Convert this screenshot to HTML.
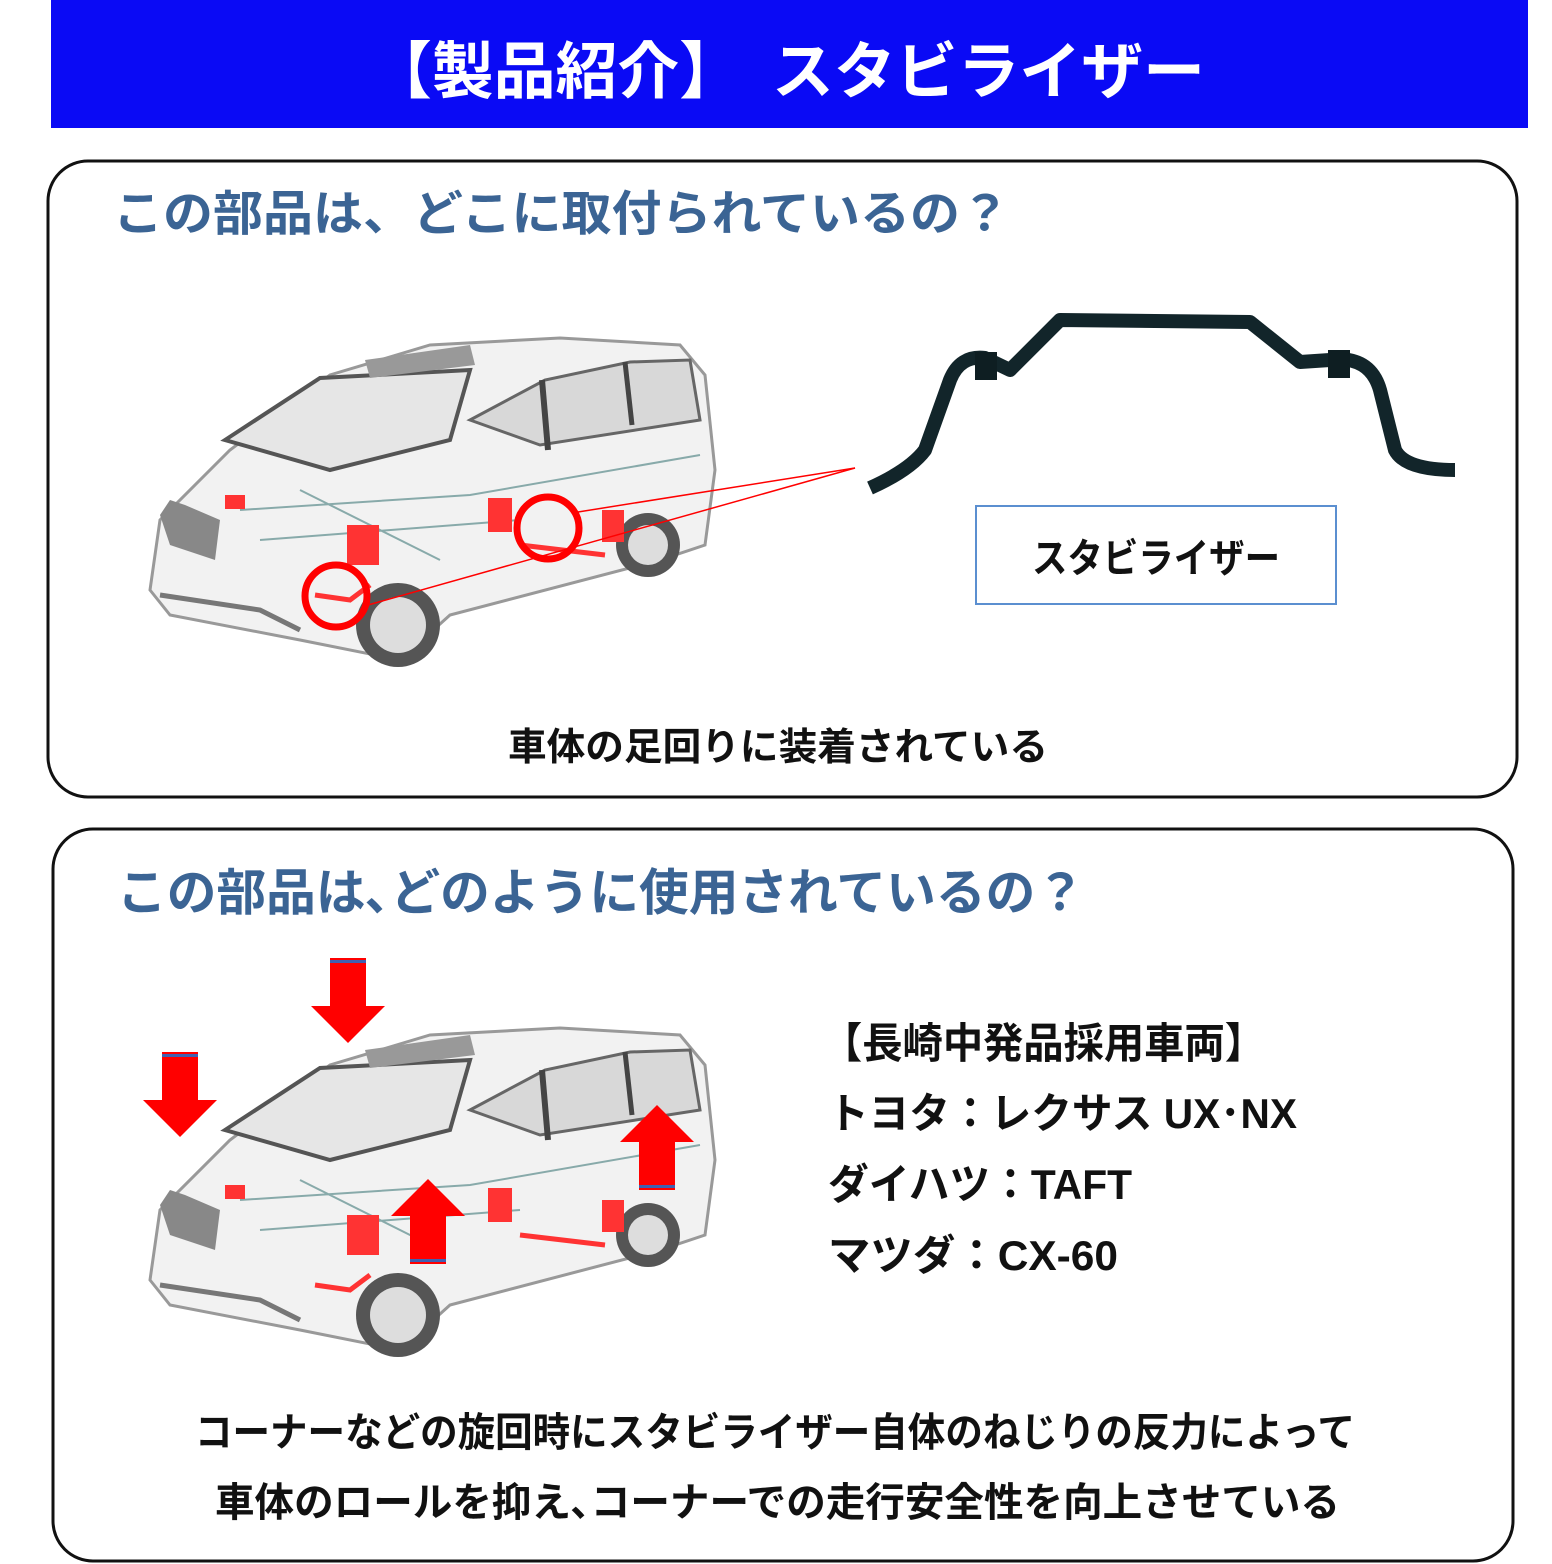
<!DOCTYPE html>
<html><head><meta charset="utf-8"><style>
body{margin:0;width:1552px;height:1564px;background:#fff;overflow:hidden}
svg{display:block}
text{font-family:"Liberation Sans","Noto Sans CJK JP",sans-serif;font-weight:bold}
</style></head><body>
<svg width="1552" height="1564" viewBox="0 0 1552 1564">
<defs>
<g id="car">
 <path d="M150,590 L160,520 L230,450 L330,375 L430,345 L560,338 L680,345 L705,375 L715,470 L705,545 L660,560 L450,615 L400,660 L300,640 L170,615 Z" fill="#f2f2f2" stroke="#999" stroke-width="3"/>
 <path d="M225,440 L320,378 L470,370 L450,440 L330,470 Z" fill="#e6e6e6" stroke="#555" stroke-width="4"/>
 <path d="M470,420 L545,380 L630,362 L690,360 L700,420 L540,445 Z" fill="#d8d8d8" stroke="#666" stroke-width="3"/>
 <line x1="542" y1="380" x2="548" y2="450" stroke="#444" stroke-width="6"/>
 <line x1="625" y1="362" x2="632" y2="425" stroke="#444" stroke-width="5"/>
 <path d="M365,360 L470,345 L475,365 L370,378 Z" fill="#999"/>
 <path d="M160,515 L170,500 L185,505 L220,520 L215,560 L170,545 Z" fill="#888"/>
 <path d="M160,595 L260,610 L300,630" fill="none" stroke="#777" stroke-width="5"/>
 <circle cx="398" cy="625" r="42" fill="#555"/><circle cx="398" cy="625" r="28" fill="#ddd"/>
 <circle cx="648" cy="545" r="32" fill="#555"/><circle cx="648" cy="545" r="20" fill="#ddd"/>
 <path d="M240,510 L470,495 L700,455 M260,540 L520,520 M300,490 L440,560" stroke="#8aa" stroke-width="2" fill="none"/>
 <rect x="347" y="525" width="32" height="40" fill="#f33"/>
 <rect x="488" y="498" width="24" height="34" fill="#f33"/>
 <rect x="602" y="510" width="22" height="32" fill="#f33"/>
 <rect x="225" y="495" width="20" height="14" fill="#f33"/>
 <path d="M315,595 L350,600 L370,585" stroke="#f33" stroke-width="5" fill="none"/>
 <path d="M520,545 L605,555" stroke="#f33" stroke-width="5" fill="none"/>
</g>
<g id="down"><rect x="-18" y="0" width="36" height="50" fill="#f00"/><path d="M-37,48 L37,48 L0,85 Z" fill="#f00"/><rect x="-18" y="2" width="36" height="3" fill="#4060b0"/></g>
</defs>
<rect x="51" y="0" width="1477" height="128" fill="#0a0af5"/>
<text x="370" y="93" font-size="62" fill="#fff" textLength="835" lengthAdjust="spacingAndGlyphs">【製品紹介】　スタビライザー</text>

<rect x="48" y="161" width="1469" height="636" rx="40" fill="none" stroke="#111" stroke-width="3"/>
<text x="113" y="230" font-size="48" fill="#3b6494" textLength="897" lengthAdjust="spacingAndGlyphs">この部品は、どこに取付られているの？</text>
<use href="#car"/>
<line x1="578" y1="512" x2="855" y2="468" stroke="#f00" stroke-width="1.5"/>
<line x1="368" y1="605" x2="855" y2="468" stroke="#f00" stroke-width="1.5"/>
<circle cx="548" cy="528" r="31" fill="none" stroke="#f00" stroke-width="7"/>
<circle cx="336" cy="596" r="31" fill="none" stroke="#f00" stroke-width="7"/>
<path d="M870,488 Q910,470 925,450 L950,380 Q960,355 985,358 L1010,370 L1060,320 L1250,322 L1300,362 L1330,360 Q1370,355 1380,390 L1395,450 Q1405,470 1455,470" fill="none" stroke="#12252a" stroke-width="14" stroke-linejoin="round"/>
<rect x="975" y="352" width="22" height="28" fill="#0e1e22"/><rect x="1328" y="350" width="22" height="28" fill="#0e1e22"/>
<rect x="976" y="506" width="360" height="98" fill="#fff" stroke="#5b8fd0" stroke-width="2"/>
<text x="1032" y="572" font-size="40" fill="#111" textLength="248" lengthAdjust="spacingAndGlyphs">スタビライザー</text>
<text x="508" y="760" font-size="38" fill="#111" textLength="540" lengthAdjust="spacingAndGlyphs">車体の足回りに装着されている</text>

<rect x="53" y="829" width="1460" height="732" rx="40" fill="none" stroke="#111" stroke-width="3"/>
<text x="117" y="910" font-size="50" fill="#3b6494" textLength="968" lengthAdjust="spacingAndGlyphs">この部品は､どのように使用されているの？</text>
<use href="#car" transform="translate(0,690)"/>
<use href="#down" transform="translate(348,958)"/>
<use href="#down" transform="translate(180,1052)"/>
<use href="#down" transform="translate(428,1264) rotate(180)"/>
<use href="#down" transform="translate(657,1190) rotate(180)"/>
<g font-size="42" fill="#111">
<text x="822" y="1058" textLength="443" lengthAdjust="spacingAndGlyphs">【長崎中発品採用車両】</text>
<text x="828" y="1128" textLength="469" lengthAdjust="spacingAndGlyphs">トヨタ：レクサス  UX･NX</text>
<text x="828" y="1199" textLength="304" lengthAdjust="spacingAndGlyphs">ダイハツ：TAFT</text>
<text x="828" y="1270" textLength="290" lengthAdjust="spacingAndGlyphs">マツダ：CX-60</text>
</g>
<text x="195" y="1446" font-size="40" fill="#111" textLength="1160" lengthAdjust="spacingAndGlyphs">コーナーなどの旋回時にスタビライザー自体のねじりの反力によって</text>
<text x="215" y="1516" font-size="40" fill="#111" textLength="1125" lengthAdjust="spacingAndGlyphs">車体のロールを抑え､コーナーでの走行安全性を向上させている</text>
</svg>
</body></html>
